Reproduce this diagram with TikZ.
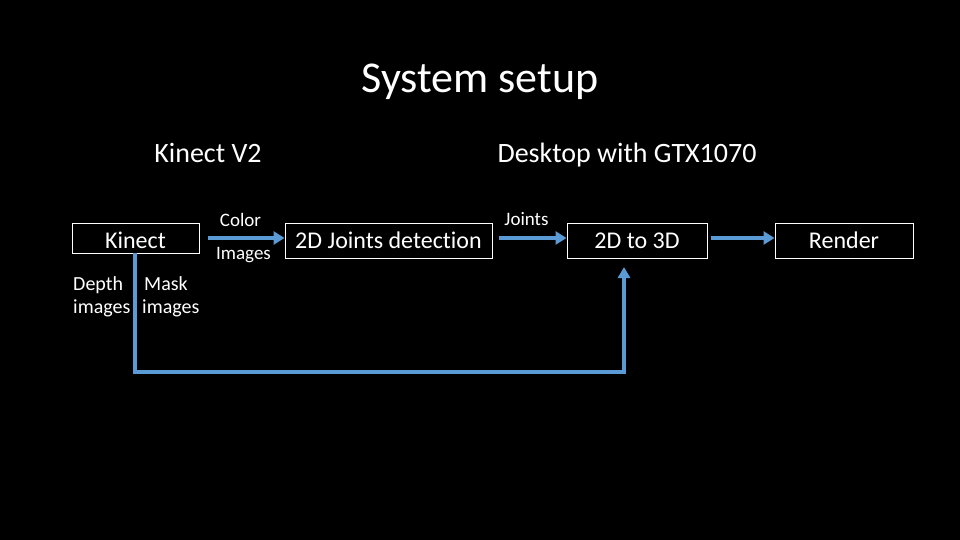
\documentclass[tikz,border=0pt]{standalone}
\usepackage{fontspec}
\setmainfont{Carlito}[Ligatures={NoCommon}]
\usetikzlibrary{arrows.meta}
\definecolor{arrowblue}{RGB}{91,155,213}
\tikzset{
  box/.style={draw=white, line width=1pt, text=white, inner sep=0pt, font=\fontsize{24}{29}\selectfont, text depth=0pt},
  lbl/.style={text=white, inner sep=0pt, anchor=base, font=\fontsize{19}{23}\selectfont},
  side/.style={text=white, inner sep=0pt, anchor=base west, font=\fontsize{20}{23}\selectfont},
  head/.style={text=white, inner sep=0pt, anchor=base, font=\fontsize{28}{34}\selectfont},
  flow/.style={draw=arrowblue, line width=4.5pt, -{Triangle[length=11pt,width=13pt]}},
  back/.style={draw=arrowblue, line width=3.5pt, line join=miter, -{Triangle[length=11pt,width=12pt]}}
}
\begin{document}
\begin{tikzpicture}[x=1pt,y=-1pt]
\fill[black] (0,0) rectangle (960,540);
\useasboundingbox (0,0) rectangle (960,540);

\node[text=white, font=\fontsize{44}{52}\selectfont, inner sep=0pt, anchor=base] (title) at (480,93) {System setup};
\node[head] (kv2) at (208,163) {Kinect V2};
\node[head] (desk) at (627,163) {Desktop with GTX1070};

\node[box, minimum width=127pt, minimum height=30pt, text height=20pt] (kin) at (135.5,238) {Kinect};
\node[box, minimum width=207pt, minimum height=35pt, text height=15pt] (det) at (388.5,240.5) {2D Joints detection};
\node[box, minimum width=140pt, minimum height=35pt, text height=15pt] (t3d) at (637,240.5) {2D to 3D};
\node[box, minimum width=138pt, minimum height=35pt, text height=15pt] (ren) at (844,240.5) {Render};

\node[lbl] (color) at (240.5,226) {Color};
\node[lbl] (images) at (243.5,259) {Images};
\node[lbl] (joints) at (526.5,225) {Joints};
\node[side] (depth1) at (73,290) {Depth};
\node[side] (depth2) at (73,313) {images};
\node[side] (mask1) at (144,290) {Mask};
\node[side] (mask2) at (142,313) {images};

\coordinate (a1s) at (208,238);
\coordinate (a2s) at (499,238);
\coordinate (a3s) at (711,238);
\draw[flow] (a1s) -- (det.west |- a1s);
\draw[flow] (a2s) -- (t3d.west |- a2s);
\draw[flow] (a3s) -- (ren.west |- a3s);

\coordinate (fbs) at (135,253);
\coordinate (fbe) at (624,267);
\draw[back] (fbs) -- (135,372) -- (624,372) -- (fbe);
\end{tikzpicture}
\end{document}
